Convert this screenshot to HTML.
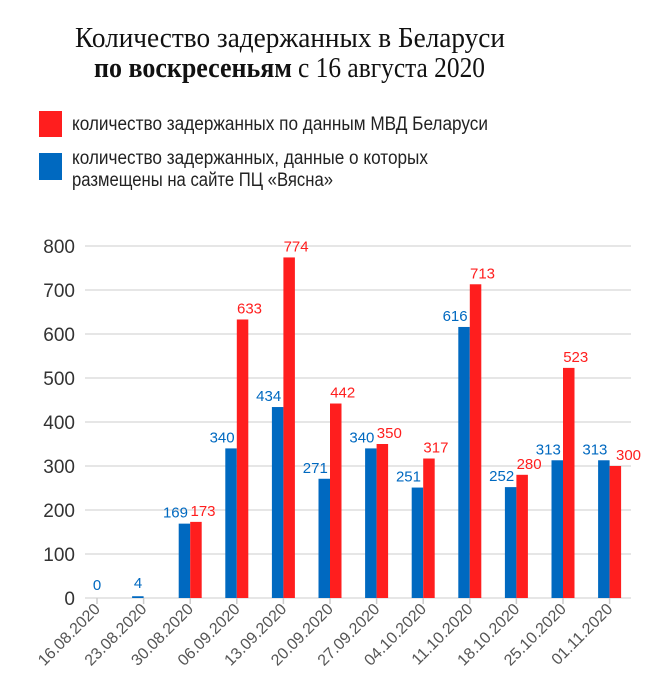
<!DOCTYPE html>
<html><head><meta charset="utf-8"><style>body{margin:0;background:#fff}svg{display:block}</style></head>
<body>
<svg width="662" height="697" xmlns="http://www.w3.org/2000/svg">
<g font-family="Liberation Serif, serif" fill="#111">
<text x="75" y="47" font-size="28" textLength="430" lengthAdjust="spacingAndGlyphs">Количество задержанных в Беларуси</text>
<text x="94" y="77" font-size="28" font-weight="bold" textLength="198" lengthAdjust="spacingAndGlyphs">по воскресеньям</text>
<text x="298" y="77" font-size="28" textLength="187" lengthAdjust="spacingAndGlyphs">с 16 августа 2020</text>
</g>
<rect x="39" y="111" width="23" height="26" fill="#ff1e1e"/>
<rect x="39" y="153" width="23" height="27" fill="#0069c0"/>
<g font-family="Liberation Sans, sans-serif" font-size="19" fill="#222">
<text x="72" y="130" textLength="416" lengthAdjust="spacingAndGlyphs">количество задержанных по данным МВД Беларуси</text>
<text x="72" y="164" textLength="356" lengthAdjust="spacingAndGlyphs">количество задержанных, данные о которых</text>
<text x="72" y="186" textLength="261" lengthAdjust="spacingAndGlyphs">размещены на сайте ПЦ «Вясна»</text>
</g>
<g stroke="#ddd" stroke-width="1.5">
<line x1="85" x2="631" y1="246" y2="246"/><line x1="85" x2="631" y1="290" y2="290"/>
<line x1="85" x2="631" y1="334" y2="334"/><line x1="85" x2="631" y1="378" y2="378"/>
<line x1="85" x2="631" y1="422" y2="422"/><line x1="85" x2="631" y1="466" y2="466"/>
<line x1="85" x2="631" y1="510" y2="510"/><line x1="85" x2="631" y1="554" y2="554"/>
<line x1="85" x2="631" y1="598" y2="598"/>
</g>
<g stroke="#ccc" stroke-width="1.5">
<line x1="97" x2="97" y1="598" y2="604"/><line x1="143.6" x2="143.6" y1="598" y2="604"/>
<line x1="190.2" x2="190.2" y1="598" y2="604"/><line x1="236.8" x2="236.8" y1="598" y2="604"/>
<line x1="283.4" x2="283.4" y1="598" y2="604"/><line x1="330" x2="330" y1="598" y2="604"/>
<line x1="376.6" x2="376.6" y1="598" y2="604"/><line x1="423.2" x2="423.2" y1="598" y2="604"/>
<line x1="469.8" x2="469.8" y1="598" y2="604"/><line x1="516.4" x2="516.4" y1="598" y2="604"/>
<line x1="563" x2="563" y1="598" y2="604"/><line x1="609.6" x2="609.6" y1="598" y2="604"/>
</g>
<g font-family="Liberation Sans, sans-serif" font-size="19" fill="#333" text-anchor="end">
<text x="75" y="253">800</text><text x="75" y="297">700</text><text x="75" y="341">600</text>
<text x="75" y="385">500</text><text x="75" y="429">400</text><text x="75" y="473">300</text>
<text x="75" y="517">200</text><text x="75" y="561">100</text><text x="75" y="605">0</text>
</g>
<g fill="#0069c0">
<rect x="132.1" y="596.24" width="11.5" height="1.76"/>
<rect x="178.7" y="523.64" width="11.5" height="74.36"/>
<rect x="225.3" y="448.4" width="11.5" height="149.6"/>
<rect x="271.9" y="407.04" width="11.5" height="190.96"/>
<rect x="318.5" y="478.76" width="11.5" height="119.24"/>
<rect x="365.1" y="448.4" width="11.5" height="149.6"/>
<rect x="411.7" y="487.56" width="11.5" height="110.44"/>
<rect x="458.3" y="326.96" width="11.5" height="271.04"/>
<rect x="504.9" y="487.12" width="11.5" height="110.88"/>
<rect x="551.5" y="460.28" width="11.5" height="137.72"/>
<rect x="598.1" y="460.28" width="11.5" height="137.72"/>
</g>
<g fill="#ff1e1e">
<rect x="190.2" y="521.88" width="11.5" height="76.12"/>
<rect x="236.8" y="319.48" width="11.5" height="278.52"/>
<rect x="283.4" y="257.44" width="11.5" height="340.56"/>
<rect x="330" y="403.52" width="11.5" height="194.48"/>
<rect x="376.6" y="444" width="11.5" height="154"/>
<rect x="423.2" y="458.52" width="11.5" height="139.48"/>
<rect x="469.8" y="284.28" width="11.5" height="313.72"/>
<rect x="516.4" y="474.8" width="11.5" height="123.2"/>
<rect x="563" y="367.88" width="11.5" height="230.12"/>
<rect x="609.6" y="466" width="11.5" height="132"/>
</g>
<g font-family="Liberation Sans, sans-serif" font-size="15" fill="#0069c0" text-anchor="end">
<text x="97" y="590" text-anchor="middle">0</text>
<text x="138" y="588" text-anchor="middle">4</text>
<text x="188" y="517.6">169</text>
<text x="234.6" y="442.4">340</text>
<text x="281.2" y="401">434</text>
<text x="327.8" y="472.8">271</text>
<text x="374.4" y="442.4">340</text>
<text x="421" y="481.6">251</text>
<text x="467.6" y="321">616</text>
<text x="514.2" y="481.1">252</text>
<text x="560.8" y="454.3">313</text>
<text x="607.4" y="454.3">313</text>
</g>
<g font-family="Liberation Sans, sans-serif" font-size="15" fill="#ff1e1e">
<text x="190.5" y="515.9">173</text>
<text x="237" y="313.5">633</text>
<text x="283.6" y="251.4">774</text>
<text x="330.2" y="397.5">442</text>
<text x="376.8" y="438">350</text>
<text x="423.4" y="452.5">317</text>
<text x="470" y="278.3">713</text>
<text x="516.6" y="468.8">280</text>
<text x="563.2" y="361.9">523</text>
<text x="616" y="460">300</text>
</g>
<g font-family="Liberation Sans, sans-serif" font-size="16" fill="#555" text-anchor="end">
<text transform="translate(101,610) rotate(-45)">16.08.2020</text>
<text transform="translate(147.6,610) rotate(-45)">23.08.2020</text>
<text transform="translate(194.2,610) rotate(-45)">30.08.2020</text>
<text transform="translate(240.8,610) rotate(-45)">06.09.2020</text>
<text transform="translate(287.4,610) rotate(-45)">13.09.2020</text>
<text transform="translate(334,610) rotate(-45)">20.09.2020</text>
<text transform="translate(380.6,610) rotate(-45)">27.09.2020</text>
<text transform="translate(427.2,610) rotate(-45)">04.10.2020</text>
<text transform="translate(473.8,610) rotate(-45)">11.10.2020</text>
<text transform="translate(520.4,610) rotate(-45)">18.10.2020</text>
<text transform="translate(567,610) rotate(-45)">25.10.2020</text>
<text transform="translate(613.6,610) rotate(-45)">01.11.2020</text>
</g>
</svg>
</body></html>
